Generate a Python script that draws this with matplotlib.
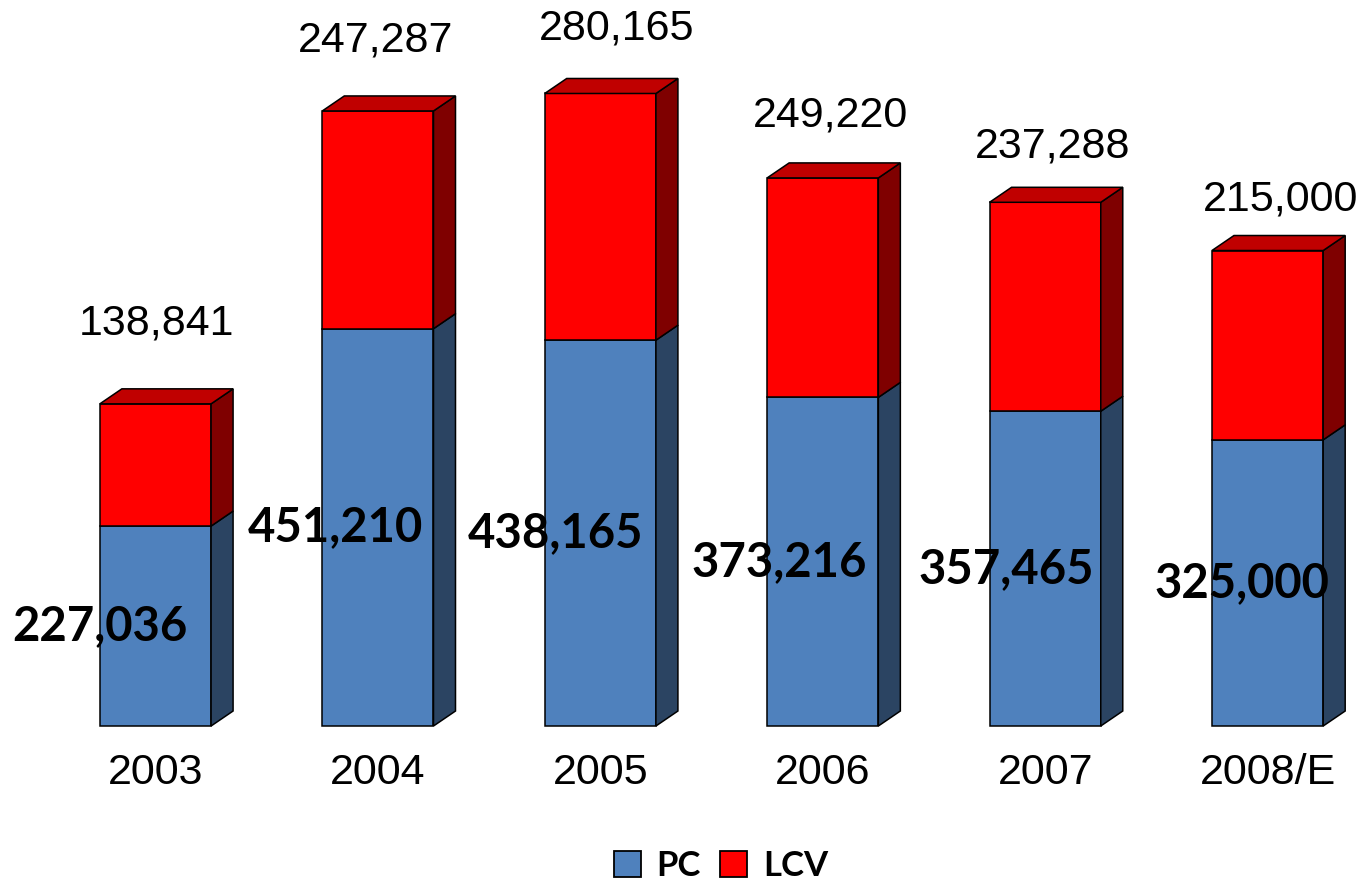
import numpy as np
import matplotlib
matplotlib.use("Agg")
import matplotlib.pyplot as plt
from matplotlib.patches import Rectangle, Polygon, Patch

years = ["2003", "2004", "2005", "2006", "2007", "2008/E"]
pc = [227036, 451210, 438165, 373216, 357465, 325000]
lcv = [138841, 247287, 280165, 249220, 237288, 215000]

# label nudges in pixels (the labels in the source were placed by hand)
lcv_dx = [1.5, -2.5, 16, 7.5, 7, 12.5]
lcv_dy = [65, 55, 50, 47, 41, 36]
pc_dx = [-56, -43, -45, -44, -38.5, -25.5]

PC_FRONT, PC_SIDE = "#4F81BD", "#2B4462"
LCV_FRONT, LCV_SIDE, LCV_TOP = "#FF0000", "#7F0000", "#C00000"

W_PX, H_PX = 1367, 886
fig = plt.figure(figsize=(W_PX / 100, H_PX / 100), dpi=100)
ax = fig.add_axes([0, 0, 1, 1])
ax.set_xlim(-0.699, 5.447)
ax.set_ylim(-181700, 824500)
ax.axis("off")

# size of one pixel in data units, used for the fake 3d depth
xpp = (ax.get_xlim()[1] - ax.get_xlim()[0]) / W_PX
ypp = (ax.get_ylim()[1] - ax.get_ylim()[0]) / H_PX
dx, dy = 22 * xpp, 15 * ypp
width = 0.5
lw = 1.1

for i in range(len(years)):
    x0 = i - width / 2
    x1 = i + width / 2
    p = pc[i]
    t = pc[i] + lcv[i]
    # PC block
    ax.add_patch(Rectangle((x0, 0), width, p, fc=PC_FRONT, ec="black", lw=lw))
    ax.add_patch(Polygon([(x1, 0), (x1 + dx, dy), (x1 + dx, p + dy), (x1, p)],
                         closed=True, fc=PC_SIDE, ec="black", lw=lw))
    # LCV block on top
    ax.add_patch(Rectangle((x0, p), width, lcv[i], fc=LCV_FRONT, ec="black", lw=lw))
    ax.add_patch(Polygon([(x1, p), (x1 + dx, p + dy), (x1 + dx, t + dy), (x1, t)],
                         closed=True, fc=LCV_SIDE, ec="black", lw=lw))
    ax.add_patch(Polygon([(x0, t), (x0 + dx, t + dy), (x1 + dx, t + dy), (x1, t)],
                         closed=True, fc=LCV_TOP, ec="black", lw=lw))

    ax.annotate("{:,}".format(lcv[i]), (i, t), xytext=(lcv_dx[i], lcv_dy[i] + 15),
                textcoords="offset pixels", ha="center", va="center",
                fontsize=31, family="Liberation Sans")
    ax.annotate("{:,}".format(pc[i]), (i, p / 2), xytext=(pc_dx[i], 0),
                textcoords="offset pixels", ha="center", va="center",
                fontsize=34, fontweight="bold", family="Lato")
    ax.annotate(years[i], (i, 0), xytext=(0, -47), textcoords="offset pixels",
                ha="center", va="center", fontsize=31, family="Liberation Sans")

handles = [Patch(fc=PC_FRONT, ec="black", lw=1.3, label="PC"),
           Patch(fc=LCV_FRONT, ec="black", lw=1.3, label="LCV")]
fig.legend(handles=handles, loc="center", bbox_to_anchor=(721 / W_PX, 1 - 866 / H_PX),
           ncol=2, frameon=False, handlelength=0.78, handleheight=0.78,
           handletextpad=0.45, columnspacing=0.55,
           prop={"family": "Lato", "weight": "bold", "size": 25})

fig.savefig("out.png", dpi=100)
